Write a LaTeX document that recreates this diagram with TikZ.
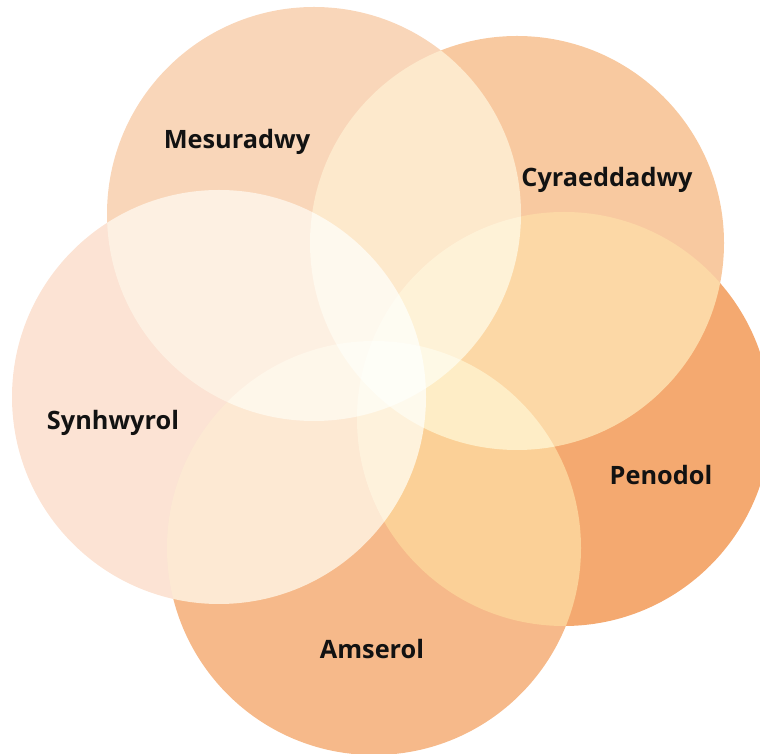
\documentclass[tikz,border=0pt]{standalone}
\usepackage{fontspec}
\setmainfont{Open Sans}
\usepackage{tikz}
\usetikzlibrary{positioning}

\definecolor{MesFill}{HTML}{F8CFAD}
\definecolor{CyrFill}{HTML}{F7C08F}
\definecolor{PenFill}{HTML}{F29A57}
\definecolor{AmsFill}{HTML}{F4AD75}
\definecolor{SynFill}{HTML}{FBDECC}

\begin{document}
\begin{tikzpicture}[
    Bubble/.style = {fill opacity=0.85},
    Label/.style  = {text=black!93, font=\bfseries\fontsize{18}{22}\selectfont},
  ]

    \useasboundingbox (0,0) rectangle (19,18.825);

    %Centres
    \coordinate (Mes) at (7.850,13.475);
    \coordinate (Cyr) at (12.925,12.750);
    \coordinate (Pen) at (14.100,8.350);
    \coordinate (Ams) at (9.350,5.125);
    \coordinate (Syn) at (5.475,8.900);

    %Circles
    \begin{scope}[blend group=screen]
        \fill[Bubble, MesFill] (Mes) circle (5.175);
        \fill[Bubble, CyrFill] (Cyr) circle (5.175);
        \fill[Bubble, PenFill] (Pen) circle (5.175);
        \fill[Bubble, AmsFill] (Ams) circle (5.175);
        \fill[Bubble, SynFill] (Syn) circle (5.175);
    \end{scope}

    %-------------------------------------------
    %Labels

    \node[Label, above left  = +1.80 cm and +1.925 cm of Mes, anchor=center] (MesLabel) {Mesuradwy};

    \node[Label, above right = +1.575 cm and +2.25 cm of Cyr, anchor=center] (CyrLabel) {Cyraeddadwy};

    \node[Label, below right = +1.40 cm and +2.425 cm of Pen, anchor=center] (PenLabel) {Penodol};

    \node[Label, below left  = +2.525 cm and +0.05 cm of Ams, anchor=center] (AmsLabel) {Amserol};

    \node[Label, below left  = +0.65 cm and +2.65 cm of Syn, anchor=center] (SynLabel) {Synhwyrol};

\end{tikzpicture}
\end{document}
